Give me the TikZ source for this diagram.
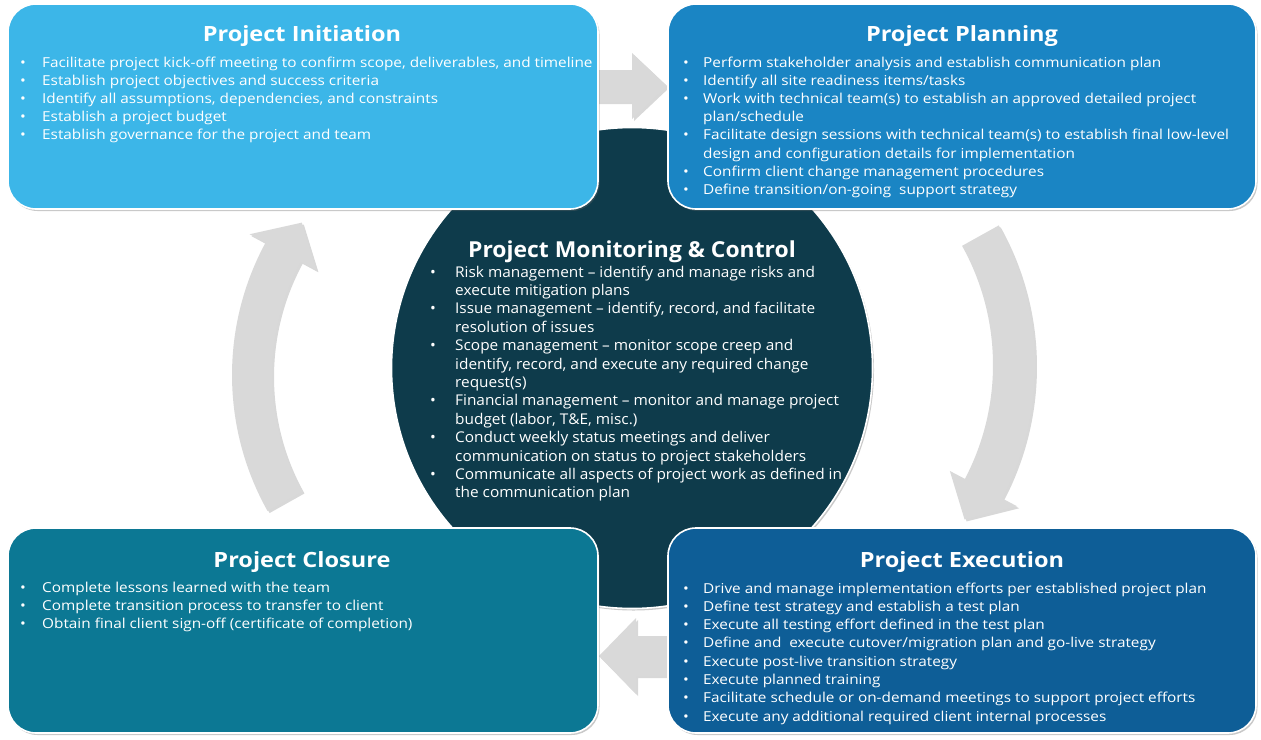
\documentclass[tikz,border=0pt]{standalone}
\usepackage{fontspec}
\setmainfont{Open Sans}
\newfontfamily\boxfont[FakeStretch=1.12,Ligatures=TeX]{Open Sans}
\newfontfamily\circfont[FakeStretch=1.04,Ligatures=TeX]{Open Sans}
\usetikzlibrary{calc,shadows}
\definecolor{cInit}{HTML}{3CB6E8}
\definecolor{cPlan}{HTML}{1A85C4}
\definecolor{cCirc}{HTML}{0E3B4B}
\definecolor{cClos}{HTML}{0C7894}
\definecolor{cExec}{HTML}{0E5E97}
\definecolor{cArr}{HTML}{D9D9D9}
\newcommand\bitem[2][22pt]{\makebox[#1][l]{\textbullet}#2}
\newcommand\bcont[2][22pt]{\hspace*{#1}#2}
\begin{document}
\begin{tikzpicture}[x=1pt,y=-1pt,
  phase/.style={fill=#1, draw=white, line width=1.6pt, rounded corners=28pt,
    drop shadow={shadow xshift=1.5pt, shadow yshift=-2pt, opacity=0.35, fill=black!60}},
  blockarrow/.style={fill=cArr, draw=none,
    drop shadow={shadow xshift=2pt, shadow yshift=-2pt, opacity=0.25, fill=black!60}},
  ttl/.style={anchor=base, text=white, font=\boxfont\fontsize{21}{24}\bfseries\selectfont, inner sep=0pt},
  ctl/.style={anchor=base, text=white, font=\circfont\fontsize{22}{26}\bfseries\selectfont, inner sep=0pt},
  lst/.style={anchor=base west, text=white, align=left, inner sep=0pt,
    font=\boxfont\fontsize{13.7}{18.2}\selectfont},
  clst/.style={anchor=base west, text=white, align=left, inner sep=0pt,
    font=\circfont\fontsize{14.8}{18.4}\selectfont}]
\useasboundingbox[fill=white] (0,0) rectangle (1261,739);

% central circle
\node[circle, fill=cCirc, draw=white, line width=1.6pt, minimum size=481pt, inner sep=0pt,
  drop shadow={shadow xshift=1.5pt, shadow yshift=-2pt, opacity=0.35, fill=black!60}] (mc) at (632,368) {};

% straight block arrows
\path[blockarrow] (590,70) -- (632,70) -- (632,53) -- (667,86) -- (632,119) -- (632,102) -- (590,102) -- cycle;
\path[blockarrow] (672,636) -- (636,636) -- (636,618) -- (599,656) -- (636,694) -- (636,676) -- (672,676) -- cycle;

% boxes
\node[phase=cInit, minimum width=590pt, minimum height=205pt, inner sep=0pt] (init) at (303,106.5) {};
\node[phase=cPlan, minimum width=588pt, minimum height=205pt, inner sep=0pt] (plan) at (962,106.5) {};
\node[phase=cClos, minimum width=590pt, minimum height=205pt, inner sep=0pt] (clos) at (303,630.5) {};
\node[phase=cExec, minimum width=588pt, minimum height=205pt, inner sep=0pt] (exec) at (962,630.5) {};

% curved block arrows
\coordinate (cl) at (510,375);
\path[blockarrow] ($(cl)+(150.7:278)$) arc[start angle=150.7, end angle=208.4, radius=278]
  -- ($(cl)+(208.4:296)$) -- ($(cl)+(216.2:258)$) -- ($(cl)+(208.4:220)$)
  -- ($(cl)+(208.4:238)$) arc[start angle=208.4, end angle=150.7, radius=238] -- cycle;
\coordinate (cr) at (748,365);
\path[blockarrow] ($(cr)+(-29.1:245)$) arc[start angle=-29.1, end angle=27.7, radius=245]
  -- ($(cr)+(27.7:228)$) -- ($(cr)+(35.5:266)$) -- ($(cr)+(27.7:304)$)
  -- ($(cr)+(27.7:287)$) arc[start angle=27.7, end angle=-29.1, radius=287] -- cycle;

% titles
\node[ttl] (initT) at (302,41) {Project Initiation};
\node[ttl] (planT) at (962,41) {Project Planning};
\node[ctl] (mcT) at (632,257) {Project Monitoring \& Control};
\node[ttl] (closT) at (302,567) {Project Closure};
\node[ttl] (execT) at (962,567) {Project Execution};

% lists (anchored at the baseline of their last line)
\node[lst] (initL) at (20,139.8) {%
\bitem{Facilitate project kick-off meeting to confirm scope, deliverables, and timeline}\\
\bitem{Establish project objectives and success criteria}\\
\bitem{Identify all assumptions, dependencies, and constraints}\\
\bitem{Establish a project budget}\\
\bitem{Establish governance for the project and team}};

\node[lst] (planL) at (683,194.4) {%
\bitem[20pt]{Perform stakeholder analysis and establish communication plan}\\
\bitem[20pt]{Identify all site readiness items/tasks}\\
\bitem[20pt]{Work with technical team(s) to establish an approved detailed project}\\
\bcont[20pt]{plan/schedule}\\
\bitem[20pt]{Facilitate design sessions with technical team(s) to establish final low-level}\\
\bcont[20pt]{design and configuration details for implementation}\\
\bitem[20pt]{Confirm client change management procedures}\\
\bitem[20pt]{Define transition/on-going\ \ support strategy}};

\node[clst] (mcL) at (430,497.8) {%
\bitem[25pt]{Risk management – identify and manage risks and}\\
\bcont[25pt]{execute mitigation plans}\\
\bitem[25pt]{Issue management – identify, record, and facilitate}\\
\bcont[25pt]{resolution of issues}\\
\bitem[25pt]{Scope management – monitor scope creep and}\\
\bcont[25pt]{identify, record, and execute any required change}\\
\bcont[25pt]{request(s)}\\
\bitem[25pt]{Financial management – monitor and manage project}\\
\bcont[25pt]{budget (labor, T\&E, misc.)}\\
\bitem[25pt]{Conduct weekly status meetings and deliver}\\
\bcont[25pt]{communication on status to project stakeholders}\\
\bitem[25pt]{Communicate all aspects of project work as defined in}\\
\bcont[25pt]{the communication plan}};

\node[lst] (closL) at (20,628.4) {%
\bitem{Complete lessons learned with the team}\\
\bitem{Complete transition process to transfer to client}\\
\bitem{Obtain final client sign-off (certificate of completion)}};

\node[lst, font=\boxfont\fontsize{13.7}{18.3}\selectfont] (execL) at (683,721.1) {%
\bitem[20pt]{Drive and manage implementation efforts per established project plan}\\
\bitem[20pt]{Define test strategy and establish a test plan}\\
\bitem[20pt]{Execute all testing effort defined in the test plan}\\
\bitem[20pt]{Define and\ \ execute cutover/migration plan and go-live strategy}\\
\bitem[20pt]{Execute post-live transition strategy}\\
\bitem[20pt]{Execute planned training}\\
\bitem[20pt]{Facilitate schedule or on-demand meetings to support project efforts}\\
\bitem[20pt]{Execute any additional required client internal processes}};
\end{tikzpicture}
\end{document}
